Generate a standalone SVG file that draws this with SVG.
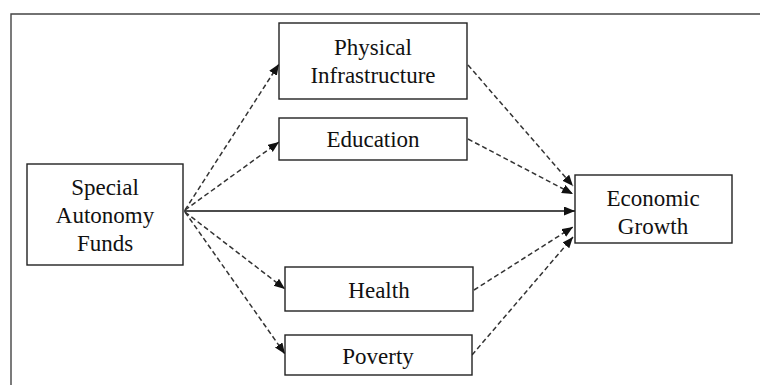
<svg xmlns="http://www.w3.org/2000/svg" width="760" height="385" viewBox="0 0 760 385">
<style>
.box{fill:#fff;stroke:#222;stroke-width:1.4}
.t{font-family:'Liberation Serif','Times New Roman',serif;font-size:23px;fill:#111;text-anchor:middle}
.d{fill:none;stroke:#333;stroke-width:1.5;stroke-dasharray:5 3}
.s{fill:none;stroke:#111;stroke-width:1.5}
.frame{fill:none;stroke:#444;stroke-width:1.4}
</style>
<defs>
<marker id="ah" markerUnits="userSpaceOnUse" markerWidth="12" markerHeight="10" refX="11" refY="4.5" orient="auto">
<path d="M0,0 L11,4.5 L0,9 z" fill="#111"/>
</marker>
</defs>
<rect width="760" height="385" fill="#fff"/>
<path class="frame" d="M11,385 V14 H760"/>
<g id="connectors">
<line class="d" x1="185" y1="210" x2="279" y2="64" marker-end="url(#ah)"/>
<line class="d" x1="185" y1="210" x2="279" y2="142" marker-end="url(#ah)"/>
<line class="s" x1="184" y1="211" x2="575" y2="211" marker-end="url(#ah)"/>
<line class="d" x1="185" y1="212" x2="285" y2="289" marker-end="url(#ah)"/>
<line class="d" x1="185" y1="212" x2="285" y2="354" marker-end="url(#ah)"/>
<line class="d" x1="468" y1="65" x2="573" y2="186" marker-end="url(#ah)"/>
<line class="d" x1="468" y1="139" x2="573" y2="194" marker-end="url(#ah)"/>
<line class="d" x1="474" y1="290" x2="573" y2="227" marker-end="url(#ah)"/>
<line class="d" x1="472" y1="355" x2="573" y2="237" marker-end="url(#ah)"/>
</g>
<g id="physical">
<rect class="box" x="279" y="23" width="188" height="76"/>
<text class="t" x="373" y="55">Physical</text>
<text class="t" x="373" y="83">Infrastructure</text>
</g>
<g id="education">
<rect class="box" x="279" y="118" width="188" height="42"/>
<text class="t" x="373" y="147">Education</text>
</g>
<g id="saf">
<rect class="box" x="27" y="164" width="156" height="101"/>
<text class="t" x="105" y="195">Special</text>
<text class="t" x="105" y="223">Autonomy</text>
<text class="t" x="105" y="251">Funds</text>
</g>
<g id="growth">
<rect class="box" x="575" y="175" width="157" height="68"/>
<text class="t" x="653" y="206">Economic</text>
<text class="t" x="653" y="234">Growth</text>
</g>
<g id="health">
<rect class="box" x="285" y="267" width="188" height="44"/>
<text class="t" x="379" y="298">Health</text>
</g>
<g id="poverty">
<rect class="box" x="285" y="335" width="187" height="40"/>
<text class="t" x="378" y="364">Poverty</text>
</g>
</svg>
